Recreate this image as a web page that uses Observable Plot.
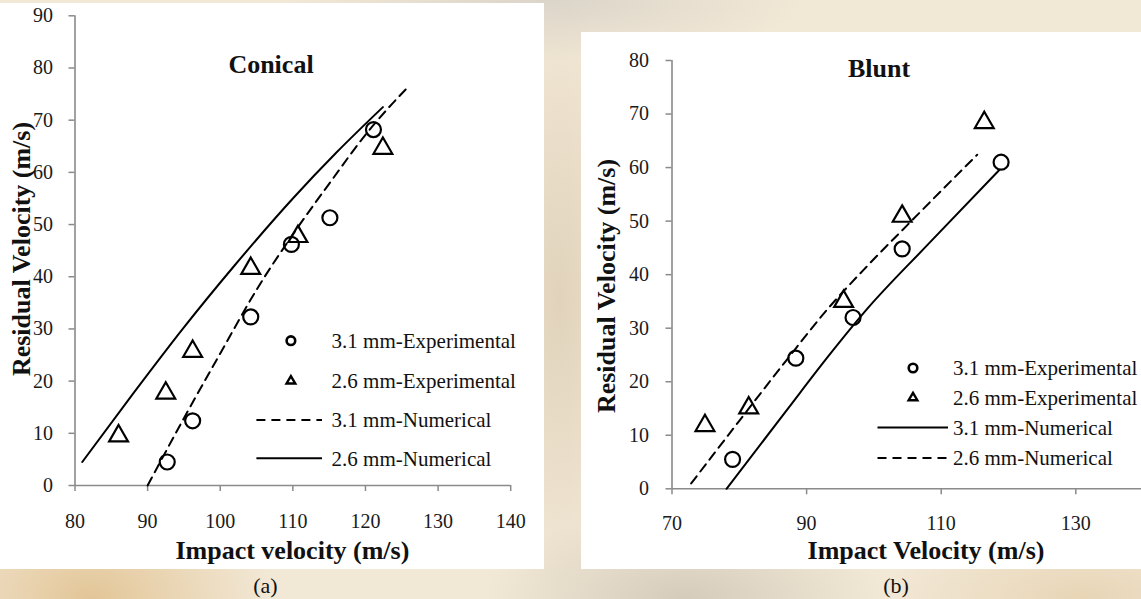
<!DOCTYPE html>
<html><head><meta charset="utf-8">
<script src="https://cdn.jsdelivr.net/npm/d3@7"></script>
<script src="https://cdn.jsdelivr.net/npm/@observablehq/plot@0.6"></script>
<style>
html,body{margin:0;padding:0;overflow:hidden;}
#page{position:relative;width:1141px;height:599px;overflow:hidden;
 font-family:"Liberation Serif","Times New Roman",serif;
 background:
  radial-gradient(ellipse 180px 120px at 8% 100%, rgba(222,186,130,0.75), transparent),
  radial-gradient(ellipse 200px 90px at 60% 100%, rgba(190,180,165,0.55), transparent),
  radial-gradient(ellipse 260px 60px at 48% 0%, rgba(200,196,190,0.55), transparent),
  radial-gradient(ellipse 80px 300px at 49% 50%, rgba(220,205,180,0.8), transparent),
  radial-gradient(ellipse 200px 80px at 95% 100%, rgba(225,200,160,0.6), transparent),
  #f2e8d6;}
.panel{position:absolute;background:#fff;}
#plotA,#plotB{position:absolute;}
#plotA svg,#plotB svg{max-width:none !important;}
#plotA svg text,#plotB svg text{font-size:20px !important;font-family:"Liberation Serif","Times New Roman",serif !important;}
#overlay{position:absolute;left:0;top:0;}
</style></head><body>
<div id="page">
 <div class="panel" style="left:0;top:3px;width:544px;height:566px"></div>
 <div class="panel" style="left:581px;top:32px;width:560px;height:537px"></div>
 <div id="plotA" style="left:0;top:0;width:545px"></div>
 <div id="plotB" style="left:581px;top:32px;width:640px"></div>
 <svg id="overlay" width="1141" height="599"></svg>
</div>
<script>
// ---------- Panel (a): Conical ----------
const conicalTitle = "Conical";
const conicalXTicks = [80, 90, 100, 110, 120, 130, 140];
const conicalYTicks = [0, 10, 20, 30, 40, 50, 60, 70, 80, 90];
const conicalExp31V = [92.7, 96.2, 104.2, 109.8, 115.1, 121.1];
const conicalExp31R = [4.5, 12.4, 32.3, 46.2, 51.3, 68.2];
const conicalExp26V = [86.0, 92.5, 96.2, 104.2, 110.7, 122.4];
const conicalExp26R = [9.5, 17.7, 25.7, 41.6, 47.7, 64.6];
const conicalNum31V = [90.0, 95, 100, 105, 110.6, 115.2, 120, 123, 125.9];
const conicalNum31R = [0, 12.9, 25.3, 37.5, 49.3, 58.2, 67.2, 72.1, 76.4];
const conicalNum26V = [81, 88, 95, 102, 110, 116, 122.4];
const conicalNum26R = [4.5, 17.6, 30.3, 42.2, 55, 63.8, 72.5];

// ---------- Panel (b): Blunt ----------
const bluntTitle = "Blunt";
const bluntXTicks = [70, 90, 110, 130];
const bluntYTicks = [0, 10, 20, 30, 40, 50, 60, 70, 80];
const bluntExp31V = [79.0, 88.4, 96.9, 104.2, 118.9];
const bluntExp31R = [5.5, 24.4, 32.0, 44.8, 61.0];
const bluntExp26V = [74.9, 81.4, 95.5, 104.2, 116.4];
const bluntExp26R = [11.8, 15.1, 35.0, 50.9, 68.4];
const bluntNum31V = [78.1, 87, 93, 99, 108, 118.6];
const bluntNum31R = [0, 14.6, 24.4, 33.6, 45.6, 59.5];
const bluntNum26V = [72.85, 80, 87, 93, 99, 105, 115.35];
const bluntNum26R = [1, 12.7, 24, 33.4, 41.6, 49.3, 62.4];

const xLabelA = "Impact velocity (m/s)";
const xLabelB = "Impact Velocity (m/s)";
const yLabel = "Residual Velocity (m/s)";
const legendLabels = ["3.1 mm-Experimental", "2.6 mm-Experimental", "3.1 mm-Numerical", "2.6 mm-Numerical"];

const zip = (xs, ys) => xs.map((v, i) => ({v, r: ys[i]}));
const AX = "#8a8a8a";
const FONT = "Liberation Serif, Times New Roman, serif";
const DASH = "9,6";

function panel({xDomain, yDomain, xTicks, yTicks, width, height, margins, padX, padY,
                exp31, exp26, num31, num26, dash31}) {
  return Plot.plot({
    width, height,
    marginLeft: margins[0], marginRight: margins[1], marginTop: margins[2], marginBottom: margins[3],
    x: {domain: xDomain}, y: {domain: yDomain},
    style: {fontFamily: FONT, fontSize: "20px", background: "transparent", overflow: "visible", maxWidth: "none"},
    marks: [
      Plot.axisX({ticks: xTicks, tickSize: 6, tickPadding: padX, stroke: AX, strokeWidth: 1.5,
                  fill: "#1a1a1a", fontSize: 20, label: null, tickFormat: d => d}),
      Plot.axisY({ticks: yTicks, tickSize: 6, tickPadding: padY, stroke: AX, strokeWidth: 1.5,
                  fill: "#1a1a1a", fontSize: 20, label: null, tickFormat: d => d}),
      Plot.ruleY([yDomain[0]], {stroke: AX, strokeWidth: 1.6}),
      Plot.ruleX([xDomain[0]], {stroke: AX, strokeWidth: 1.6}),
      Plot.line(num31, {x: "v", y: "r", stroke: "black", strokeWidth: 2,
                        strokeDasharray: dash31 ? DASH : null, curve: "monotone-x"}),
      Plot.line(num26, {x: "v", y: "r", stroke: "black", strokeWidth: 2,
                        strokeDasharray: dash31 ? null : DASH, curve: "monotone-x"}),
      Plot.dot(exp31, {x: "v", y: "r", r: 7.5, stroke: "black", strokeWidth: 2.2, fill: "none"}),
      Plot.dot(exp26, {x: "v", y: "r", r: 7, symbol: "triangle", stroke: "black", strokeWidth: 2.2, fill: "none"})
    ]
  });
}

document.getElementById("plotA").append(panel({
  xDomain: [80, 140], yDomain: [0, 90], xTicks: conicalXTicks, yTicks: conicalYTicks,
  width: 545, height: 570, margins: [74.5, 34.8, 15.3, 85], padX: 22, padY: 16,
  exp31: zip(conicalExp31V, conicalExp31R), exp26: zip(conicalExp26V, conicalExp26R),
  num31: zip(conicalNum31V, conicalNum31R), num26: zip(conicalNum26V, conicalNum26R), dash31: true
}));
document.getElementById("plotB").append(panel({
  xDomain: [70, 150], yDomain: [0, 80], xTicks: bluntXTicks, yTicks: bluntYTicks,
  width: 640, height: 537, margins: [90.5, 11.1, 28, 80.7], padX: 21, padY: 17,
  exp31: zip(bluntExp31V, bluntExp31R), exp26: zip(bluntExp26V, bluntExp26R),
  num31: zip(bluntNum31V, bluntNum31R), num26: zip(bluntNum26V, bluntNum26R), dash31: false
}));

// ---------- overlay: titles, axis titles, legends, captions ----------
const svg = d3.select("#overlay").style("font-family", FONT);
function txt(x, y, s, size, bold, anchor = "middle", rot = false) {
  const t = svg.append("text").text(s).attr("font-size", size)
    .attr("font-weight", bold ? "bold" : "normal").attr("text-anchor", anchor).attr("fill", "#111");
  if (rot) t.attr("transform", `translate(${x},${y}) rotate(-90)`);
  else t.attr("x", x).attr("y", y);
}
txt(271, 72.5, conicalTitle, 26, true);
txt(879, 77.3, bluntTitle, 26, true);
txt(292.4, 559, xLabelA, 26, true);
txt(926, 559.3, xLabelB, 26, true);
txt(29.5, 249, yLabel, 26, true, "middle", true);
txt(615, 286, yLabel, 26, true, "middle", true);
txt(265.5, 593, "(a)", 22, false);
txt(896, 593, "(b)", 22, false);

function legend(mx, tx, lx0, lx1, rows, dashFor31) {
  svg.append("circle").attr("cx", mx).attr("cy", rows[0]).attr("r", 4.3)
    .attr("fill", "none").attr("stroke", "black").attr("stroke-width", 2.6);
  const s = 4.6;
  svg.append("path").attr("d", `M${mx},${rows[1]-s}L${mx+s*0.95},${rows[1]+s*0.6}L${mx-s*0.95},${rows[1]+s*0.6}Z`)
    .attr("fill", "none").attr("stroke", "black").attr("stroke-width", 2.4);
  svg.append("line").attr("x1", lx0).attr("x2", lx1).attr("y1", rows[2]).attr("y2", rows[2])
    .attr("stroke", "black").attr("stroke-width", 2).attr("stroke-dasharray", dashFor31 ? DASH : null);
  svg.append("line").attr("x1", lx0).attr("x2", lx1).attr("y1", rows[3]).attr("y2", rows[3])
    .attr("stroke", "black").attr("stroke-width", 2).attr("stroke-dasharray", dashFor31 ? null : DASH);
  legendLabels.forEach((l, i) => txt(tx, rows[i] + 7.4, l, 21, false, "start"));
}
legend(290.9, 331.6, 256.4, 322, [340.7, 380.7, 420, 458.3], true);
legend(913, 953, 877.5, 948, [368, 397.5, 427.4, 458], false);
</script>
</body></html>
